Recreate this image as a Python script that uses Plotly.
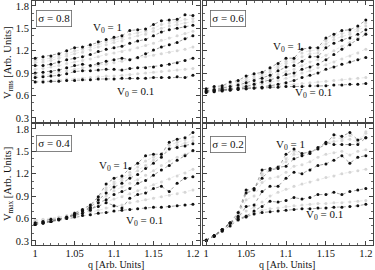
import plotly.graph_objects as go

q = [1.00, 1.01, 1.02, 1.03, 1.04, 1.05, 1.06, 1.07, 1.08, 1.09, 1.10,
     1.11, 1.12, 1.13, 1.14, 1.15, 1.16, 1.17, 1.18, 1.19, 1.20]
v0 = [0.1, 0.2, 0.3, 0.4, 0.5, 0.6, 0.7, 0.8, 0.9, 1.0]
dark_v0 = [0.1, 0.3, 0.5, 0.7, 1.0]

# sigma = 0.8, V_rms
rms_s08 = [
    [0.78,0.78,0.79,0.79,0.80,0.80,0.81,0.81,0.82,0.82,0.82,0.83,0.83,0.83,0.83,0.84,0.84,0.84,0.85,0.84,0.87],
    [0.79,0.80,0.80,0.81,0.82,0.82,0.83,0.84,0.85,0.86,0.86,0.87,0.88,0.89,0.90,0.91,0.92,0.93,0.94,0.95,0.96],
    [0.84,0.85,0.86,0.87,0.89,0.92,0.93,0.93,0.94,0.95,0.95,0.94,0.96,0.97,0.97,0.98,1.00,1.02,1.04,1.07,1.10],
    [0.86,0.87,0.89,0.91,0.93,0.95,0.97,0.98,1.00,1.02,1.04,1.06,1.08,1.10,1.12,1.14,1.16,1.18,1.20,1.22,1.25],
    [0.90,0.91,0.92,0.94,0.97,1.00,1.02,1.00,1.03,1.06,1.08,1.10,1.08,1.11,1.16,1.21,1.25,1.28,1.31,1.36,1.40],
    [0.95,0.96,0.98,1.00,1.03,1.05,1.07,1.09,1.12,1.15,1.17,1.19,1.21,1.24,1.27,1.30,1.34,1.37,1.40,1.43,1.46],
    [1.00,1.00,1.02,1.05,1.08,1.10,1.12,1.15,1.19,1.22,1.24,1.26,1.30,1.33,1.35,1.40,1.45,1.48,1.50,1.52,1.54],
    [1.04,1.05,1.07,1.10,1.13,1.16,1.18,1.21,1.25,1.28,1.31,1.33,1.37,1.40,1.42,1.46,1.50,1.53,1.55,1.57,1.59],
    [1.07,1.08,1.10,1.13,1.16,1.20,1.22,1.25,1.29,1.32,1.35,1.37,1.42,1.44,1.46,1.50,1.55,1.57,1.59,1.62,1.63],
    [1.10,1.12,1.13,1.16,1.20,1.24,1.25,1.28,1.32,1.35,1.38,1.40,1.47,1.48,1.49,1.55,1.60,1.61,1.62,1.68,1.67],
]

# sigma = 0.6, V_rms
rms_s06 = [
    [0.66,0.67,0.68,0.68,0.69,0.69,0.70,0.70,0.71,0.71,0.72,0.72,0.72,0.73,0.73,0.73,0.74,0.74,0.75,0.75,0.76],
    [0.66,0.67,0.67,0.68,0.69,0.70,0.70,0.71,0.72,0.73,0.74,0.75,0.76,0.77,0.78,0.79,0.80,0.81,0.82,0.83,0.84],
    [0.64,0.65,0.66,0.67,0.68,0.69,0.70,0.71,0.73,0.75,0.77,0.80,0.84,0.87,0.90,0.95,0.98,1.02,1.05,1.08,1.11],
    [0.65,0.66,0.67,0.68,0.69,0.71,0.73,0.75,0.77,0.80,0.83,0.86,0.90,0.93,0.97,1.01,1.05,1.09,1.13,1.17,1.22],
    [0.65,0.66,0.67,0.69,0.70,0.72,0.75,0.78,0.80,0.84,0.88,0.90,0.95,0.98,1.02,1.08,1.15,1.22,1.28,1.35,1.42],
    [0.66,0.67,0.69,0.70,0.72,0.74,0.77,0.80,0.84,0.88,0.92,0.95,1.00,1.05,1.08,1.14,1.20,1.26,1.31,1.37,1.44],
    [0.66,0.68,0.70,0.72,0.74,0.77,0.80,0.83,0.87,0.93,0.98,1.00,1.06,1.12,1.12,1.24,1.30,1.34,1.37,1.42,1.48],
    [0.67,0.69,0.71,0.74,0.76,0.80,0.83,0.86,0.91,0.97,1.03,1.05,1.12,1.16,1.17,1.29,1.35,1.39,1.42,1.47,1.53],
    [0.68,0.70,0.72,0.76,0.78,0.83,0.86,0.89,0.94,1.00,1.06,1.08,1.17,1.20,1.21,1.33,1.39,1.43,1.45,1.50,1.57],
    [0.69,0.72,0.73,0.78,0.80,0.86,0.89,0.91,0.97,1.03,1.10,1.10,1.22,1.24,1.24,1.37,1.42,1.47,1.48,1.53,1.61],
]

# sigma = 0.4, V_max
max_s04 = [
    [0.52,0.54,0.56,0.58,0.60,0.62,0.64,0.65,0.67,0.68,0.70,0.71,0.72,0.73,0.74,0.75,0.75,0.76,0.77,0.78,0.79],
    [0.55,0.56,0.57,0.59,0.61,0.63,0.66,0.68,0.71,0.74,0.76,0.78,0.81,0.83,0.85,0.87,0.89,0.91,0.93,0.95,0.98],
    [0.54,0.56,0.59,0.59,0.62,0.65,0.70,0.73,0.76,0.81,0.77,0.74,0.87,0.92,0.94,1.00,1.03,0.96,1.07,1.14,1.16],
    [0.56,0.57,0.58,0.60,0.62,0.65,0.69,0.73,0.78,0.82,0.86,0.89,0.93,0.97,1.01,1.05,1.09,1.13,1.17,1.21,1.26],
    [0.54,0.55,0.56,0.59,0.61,0.64,0.67,0.71,0.81,0.85,0.92,0.96,1.00,1.07,1.11,1.18,1.25,1.31,1.38,1.44,1.51],
    [0.57,0.58,0.59,0.61,0.63,0.66,0.70,0.75,0.83,0.90,0.97,1.02,1.07,1.12,1.18,1.24,1.31,1.37,1.42,1.46,1.50],
    [0.52,0.54,0.56,0.59,0.61,0.65,0.70,0.75,0.85,0.94,1.02,1.07,1.14,1.19,1.27,1.34,1.42,1.53,1.55,1.57,1.60],
    [0.57,0.58,0.59,0.61,0.63,0.67,0.71,0.77,0.87,0.98,1.06,1.11,1.18,1.24,1.31,1.38,1.45,1.54,1.58,1.61,1.64],
    [0.58,0.59,0.60,0.62,0.64,0.68,0.72,0.78,0.88,1.01,1.09,1.14,1.22,1.29,1.37,1.42,1.47,1.58,1.62,1.65,1.69],
    [0.52,0.54,0.56,0.59,0.61,0.67,0.72,0.78,0.89,1.06,1.14,1.17,1.27,1.34,1.44,1.46,1.46,1.62,1.66,1.68,1.75],
]

# sigma = 0.2, V_max
max_s02 = [
    [0.31,0.36,0.43,0.50,0.58,0.62,0.66,0.68,0.69,0.70,0.71,0.72,0.73,0.73,0.74,0.74,0.75,0.75,0.76,0.77,0.79],
    [0.31,0.37,0.44,0.52,0.60,0.64,0.68,0.71,0.73,0.74,0.76,0.77,0.78,0.79,0.80,0.80,0.81,0.81,0.82,0.83,0.84],
    [0.31,0.37,0.45,0.54,0.59,0.63,0.70,0.76,0.83,0.82,0.84,0.88,0.86,0.88,0.92,0.92,0.95,0.92,0.96,0.98,1.00],
    [0.31,0.37,0.45,0.54,0.61,0.70,0.75,0.82,0.90,0.95,0.99,1.03,1.06,1.09,1.12,1.15,1.17,1.20,1.22,1.24,1.26],
    [0.31,0.37,0.45,0.54,0.61,0.76,0.78,0.96,1.03,1.03,1.14,1.22,1.20,1.25,1.31,1.33,1.38,1.44,1.34,1.42,1.44],
    [0.31,0.37,0.45,0.54,0.62,0.85,0.90,1.08,1.14,1.16,1.22,1.30,1.32,1.36,1.42,1.46,1.48,1.50,1.45,1.50,1.52],
    [0.31,0.37,0.45,0.54,0.63,0.94,0.98,1.25,1.27,1.29,1.30,1.40,1.44,1.47,1.55,1.62,1.59,1.59,1.59,1.59,1.68],
    [0.31,0.37,0.45,0.54,0.65,0.96,0.99,1.20,1.26,1.28,1.36,1.46,1.46,1.48,1.55,1.61,1.63,1.64,1.66,1.62,1.74],
    [0.31,0.37,0.45,0.54,0.66,0.97,1.00,1.18,1.25,1.27,1.40,1.50,1.47,1.49,1.54,1.60,1.68,1.67,1.71,1.64,1.76],
    [0.31,0.37,0.45,0.54,0.68,0.98,1.00,1.14,1.25,1.27,1.46,1.53,1.47,1.49,1.53,1.60,1.72,1.70,1.75,1.65,1.68],
]

panels = [
    ("x3", "y3", rms_s08),
    ("x4", "y4", rms_s06),
    ("x", "y", max_s04),
    ("x2", "y2", max_s02),
]

FONT = "Liberation Serif"
fig = go.Figure()

for xa, ya, data in panels:
    order = [i for i, v in enumerate(v0) if v not in dark_v0] + \
            [i for i, v in enumerate(v0) if v in dark_v0]
    for i in order:
        dark = v0[i] in dark_v0
        fig.add_trace(go.Scatter(
            x=q, y=data[i], xaxis=xa, yaxis=ya, mode="lines+markers",
            line=dict(color="#7a7a7a" if dark else "#e0e0e0", width=0.7, dash="dot"),
            marker=dict(color="#111111" if dark else "#d6d6d6", size=3.0),
            showlegend=False, hoverinfo="skip"))

xdom_l = [0.0, 0.4927]
xdom_r = [0.5015, 1.0]
ydom_t = [0.504, 1.0]
ydom_b = [0.0, 0.496]

def xax(dom, anchor, labels):
    return dict(domain=dom, anchor=anchor, range=[0.996, 1.209], tick0=1.0, dtick=0.05,
                ticks="inside", ticklen=4, tickwidth=0.8, tickcolor="#444",
                minor=dict(ticks="inside", ticklen=2, dtick=0.01, tickcolor="#666", tickwidth=0.7),
                showline=True, linecolor="#444", linewidth=1, mirror="allticks",
                showgrid=False, zeroline=False, showticklabels=labels,
                ticklabelstandoff=-2,
                tickfont=dict(family=FONT, size=10.5, color="#111"))

def yax(dom, anchor, labels):
    return dict(domain=dom, anchor=anchor, range=[0.245, 1.865], tick0=0.3, dtick=0.3,
                ticks="inside", ticklen=4, tickwidth=0.8, tickcolor="#444",
                minor=dict(ticks="inside", ticklen=2, dtick=0.1, tickcolor="#666", tickwidth=0.7),
                showline=True, linecolor="#444", linewidth=1, mirror="allticks",
                showgrid=False, zeroline=False, showticklabels=labels,
                tickfont=dict(family=FONT, size=10.5, color="#111"))

fig.update_layout(
    width=375, height=270,
    margin=dict(l=32, r=2, t=1, b=25),
    paper_bgcolor="white", plot_bgcolor="white",
    font=dict(family=FONT, size=11, color="#111"),
    xaxis=xax(xdom_l, "y", True),
    yaxis=yax(ydom_b, "x", True),
    xaxis2=xax(xdom_r, "y2", True),
    yaxis2=yax(ydom_b, "x2", False),
    xaxis3=xax(xdom_l, "y3", False),
    yaxis3=yax(ydom_t, "x3", True),
    xaxis4=xax(xdom_r, "y4", False),
    yaxis4=yax(ydom_t, "x4", False),
)

def px(xp):
    return (xp - 32) / 341.0

def py(yp):
    return (245 - yp) / 244.0

ann = []
boxes = [("σ = 0.8", 54, 19), ("σ = 0.6", 228, 19), ("σ = 0.4", 54, 143), ("σ = 0.2", 228, 144)]
for t, bx, by in boxes:
    ann.append(dict(text=t, x=px(bx), y=py(by), xref="paper", yref="paper",
                    xanchor="center", yanchor="middle",
                    showarrow=False, font=dict(family=FONT, size=11, color="#111"),
                    bordercolor="#666", borderwidth=0.8, borderpad=1.5, bgcolor="white"))
labels = [("V<sub>0</sub> = 1", 107, 28), ("V<sub>0</sub> = 0.1", 135, 92),
          ("V<sub>0</sub> = 1", 287, 47), ("V<sub>0</sub> = 0.1", 313, 93),
          ("V<sub>0</sub> = 1", 113, 166), ("V<sub>0</sub> = 0.1", 144, 221),
          ("V<sub>0</sub> = 1", 290, 145), ("V<sub>0</sub> = 0.1", 324, 215)]
for t, bx, by in labels:
    ann.append(dict(text=t, x=px(bx), y=py(by), xref="paper", yref="paper",
                    xanchor="center", yanchor="middle",
                    showarrow=False, font=dict(family=FONT, size=11, color="#111")))
ann.append(dict(text="V<sub>rms</sub> [Arb. Units]", x=px(8), y=py(62), xref="paper", yref="paper",
                xanchor="center", yanchor="middle",
                showarrow=False, textangle=-90, font=dict(family=FONT, size=10.5, color="#111")))
ann.append(dict(text="V<sub>max</sub> [Arb. Units]", x=px(8), y=py(184), xref="paper", yref="paper",
                xanchor="center", yanchor="middle",
                showarrow=False, textangle=-90, font=dict(family=FONT, size=10.5, color="#111")))
ann.append(dict(text="q [Arb. Units]", x=px(116), y=py(264.5), xref="paper", yref="paper",
                xanchor="center", yanchor="middle",
                showarrow=False, font=dict(family=FONT, size=10, color="#111")))
ann.append(dict(text="q [Arb. Units]", x=px(287), y=py(264.5), xref="paper", yref="paper",
                xanchor="center", yanchor="middle",
                showarrow=False, font=dict(family=FONT, size=10, color="#111")))
fig.update_layout(annotations=ann)

fig.write_html("out.html", config={"displayModeBar": False},
               post_script="document.body.style.margin='0';")
